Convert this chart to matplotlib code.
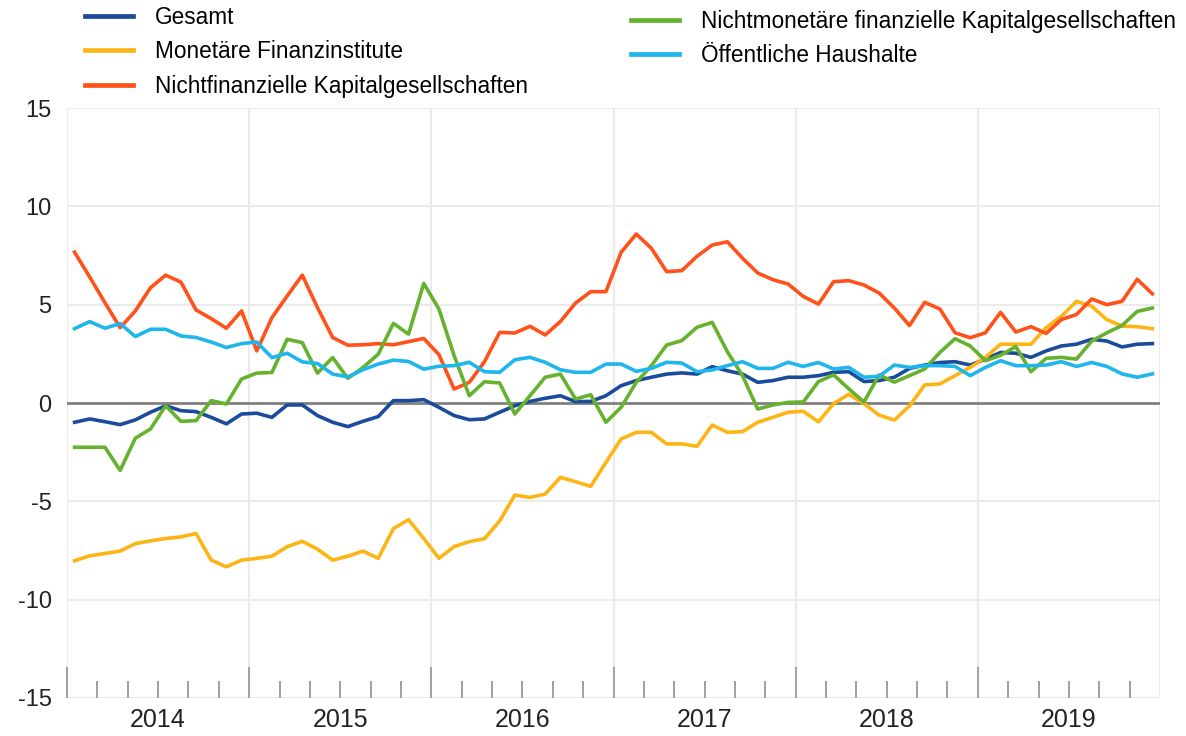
import matplotlib
matplotlib.use("Agg")
import matplotlib.pyplot as plt
from matplotlib.lines import Line2D
import numpy as np

plt.rcParams['font.family'] = ['Liberation Sans', 'DejaVu Sans']

# monthly values, Jan 2014 - Dec 2019
years = ['2014', '2015', '2016', '2017', '2018', '2019']

gesamt = [-0.98, -0.81, -0.95, -1.10, -0.86, -0.47, -0.14, -0.39, -0.44, -0.73, -1.06, -0.56,
          -0.52, -0.73, -0.10, -0.10, -0.64, -0.98, -1.20, -0.93, -0.69, 0.12, 0.12, 0.17,
          -0.22, -0.64, -0.85, -0.81, -0.47, -0.14, 0.08, 0.24, 0.37, 0.07, 0.08, 0.37,
          0.88, 1.14, 1.31, 1.47, 1.53, 1.47, 1.85, 1.64, 1.47, 1.05, 1.14, 1.31,
          1.31, 1.39, 1.56, 1.59, 1.09, 1.14, 1.31, 1.76, 1.93, 2.06, 2.10, 1.93,
          2.23, 2.57, 2.53, 2.32, 2.65, 2.90, 2.99, 3.24, 3.15, 2.85, 2.99, 3.02]

monetaer = [-8.02, -7.77, -7.65, -7.53, -7.15, -7.01, -6.89, -6.81, -6.64, -7.99, -8.33, -7.99,
            -7.90, -7.79, -7.31, -7.03, -7.43, -7.99, -7.79, -7.53, -7.90, -6.39, -5.93, -6.89,
            -7.90, -7.30, -7.05, -6.90, -6.00, -4.68, -4.80, -4.63, -3.78, -4.00, -4.24, -3.02,
            -1.83, -1.49, -1.49, -2.08, -2.08, -2.20, -1.12, -1.49, -1.46, -0.98, -0.73, -0.47,
            -0.42, -0.96, -0.03, 0.44, -0.03, -0.62, -0.87, -0.15, 0.92, 0.97, 1.39, 1.81,
            2.32, 2.99, 2.99, 2.99, 3.83, 4.41, 5.17, 4.92, 4.24, 3.91, 3.88, 3.78]

nichtfin = [7.67, 6.40, 5.10, 3.83, 4.68, 5.86, 6.50, 6.15, 4.73, 4.29, 3.80, 4.68,
            2.65, 4.34, 5.44, 6.50, 4.85, 3.33, 2.94, 2.96, 3.02, 2.96, 3.12, 3.28,
            2.46, 0.71, 1.05, 2.10, 3.59, 3.56, 3.90, 3.46, 4.14, 5.08, 5.66, 5.66,
            7.66, 8.59, 7.86, 6.68, 6.73, 7.46, 8.03, 8.20, 7.36, 6.61, 6.27, 6.05,
            5.42, 5.03, 6.17, 6.22, 6.00, 5.59, 4.83, 3.94, 5.12, 4.78, 3.57, 3.32,
            3.57, 4.61, 3.61, 3.88, 3.54, 4.24, 4.50, 5.29, 5.00, 5.17, 6.29, 5.55]

nichtmon = [-2.25, -2.25, -2.25, -3.43, -1.79, -1.32, -0.14, -0.93, -0.90, 0.12, -0.05, 1.22,
            1.52, 1.55, 3.24, 3.07, 1.52, 2.31, 1.25, 1.81, 2.48, 4.05, 3.50, 6.08,
            4.78, 2.41, 0.37, 1.08, 1.02, -0.56, 0.37, 1.31, 1.47, 0.20, 0.42, -0.98,
            -0.22, 1.05, 1.90, 2.95, 3.17, 3.85, 4.10, 2.61, 1.39, -0.31, -0.10, 0.03,
            0.05, 1.09, 1.43, 0.72, 0.05, 1.43, 1.06, 1.39, 1.73, 2.57, 3.27, 2.90,
            2.15, 2.43, 2.87, 1.59, 2.27, 2.32, 2.23, 3.15, 3.57, 3.94, 4.66, 4.83]

oeffentl = [3.78, 4.14, 3.80, 4.04, 3.38, 3.75, 3.75, 3.41, 3.33, 3.10, 2.82, 3.02,
            3.10, 2.31, 2.53, 2.09, 2.01, 1.47, 1.33, 1.69, 1.98, 2.18, 2.11, 1.72,
            1.87, 1.90, 2.07, 1.59, 1.56, 2.20, 2.32, 2.07, 1.69, 1.56, 1.56, 1.98,
            1.98, 1.61, 1.76, 2.07, 2.03, 1.59, 1.68, 1.90, 2.10, 1.76, 1.76, 2.07,
            1.86, 2.06, 1.73, 1.81, 1.31, 1.36, 1.93, 1.81, 1.90, 1.90, 1.86, 1.39,
            1.81, 2.15, 1.90, 1.90, 1.93, 2.10, 1.86, 2.06, 1.86, 1.48, 1.31, 1.48]

series = [
    ('Gesamt', gesamt, '#1b4b9b'),
    ('Monetäre Finanzinstitute', monetaer, '#fdb515'),
    ('Nichtfinanzielle Kapitalgesellschaften', nichtfin, '#ff5119'),
    ('Nichtmonetäre finanzielle Kapitalgesellschaften', nichtmon, '#66b22e'),
    ('Öffentliche Haushalte', oeffentl, '#1fb6ee'),
]

x = np.arange(len(gesamt)) + 0.5

fig = plt.figure(figsize=(11.86, 7.36), dpi=100)
ax = fig.add_axes([67 / 1186, 1 - 698 / 736, (1160 - 67) / 1186, 590 / 736])

grid_c = '#ebebeb'
for yv in [15, 10, 5, -5, -10, -15]:
    ax.axhline(yv, color=grid_c, lw=1.5, zorder=0)
for xv in range(0, 73, 12):
    ax.axvline(xv, color=grid_c, lw=1.5, zorder=0)
ax.axhline(0, color='#808080', lw=2, zorder=1)

handles = []
for name, vals, col in series:
    ax.plot(x, vals, color=col, lw=2.6, label=name, zorder=3)
    handles.append(Line2D([], [], color=col, lw=3.4))

ax.set_xlim(0, 72)
ax.set_ylim(-15, 15)
for s in ax.spines.values():
    s.set_visible(False)

ax.set_yticks([15, 10, 5, 0, -5, -10, -15])
ax.set_yticklabels(['15', '10', '5', '0', '-5', '-10', '-15'])
ax.tick_params(axis='y', length=0, pad=11, labelsize=17, labelcolor='#222222')

ax.set_xticks(range(0, 61, 12))
ax.set_xticks([m for m in range(2, 73, 2) if m % 12 != 0], minor=True)
ax.tick_params(axis='x', which='major', direction='in', length=22, width=1.4,
               color='#a0a0a0', labelbottom=False)
ax.tick_params(axis='x', which='minor', direction='in', length=12, width=1.4,
               color='#a0a0a0')

sec = ax.secondary_xaxis('bottom')
sec.set_xticks(np.arange(6, 72, 12), labels=years)
sec.tick_params(length=0, pad=7, labelsize=18, labelcolor='#222222')
sec.spines['bottom'].set_visible(False)

leg_kw = dict(loc='upper left', frameon=False, fontsize=16.3, handlelength=2.1,
              handletextpad=1.0, labelspacing=0.5, borderpad=0, borderaxespad=0)
fig.legend(handles[:3], [s[0] for s in series[:3]],
           bbox_to_anchor=(85 / 1186, 1 - 6 / 736), **leg_kw)
fig.legend(handles[3:], [s[0] for s in series[3:]],
           bbox_to_anchor=(631 / 1186, 1 - 10 / 736), **leg_kw)

fig.savefig('out.png', dpi=100)
